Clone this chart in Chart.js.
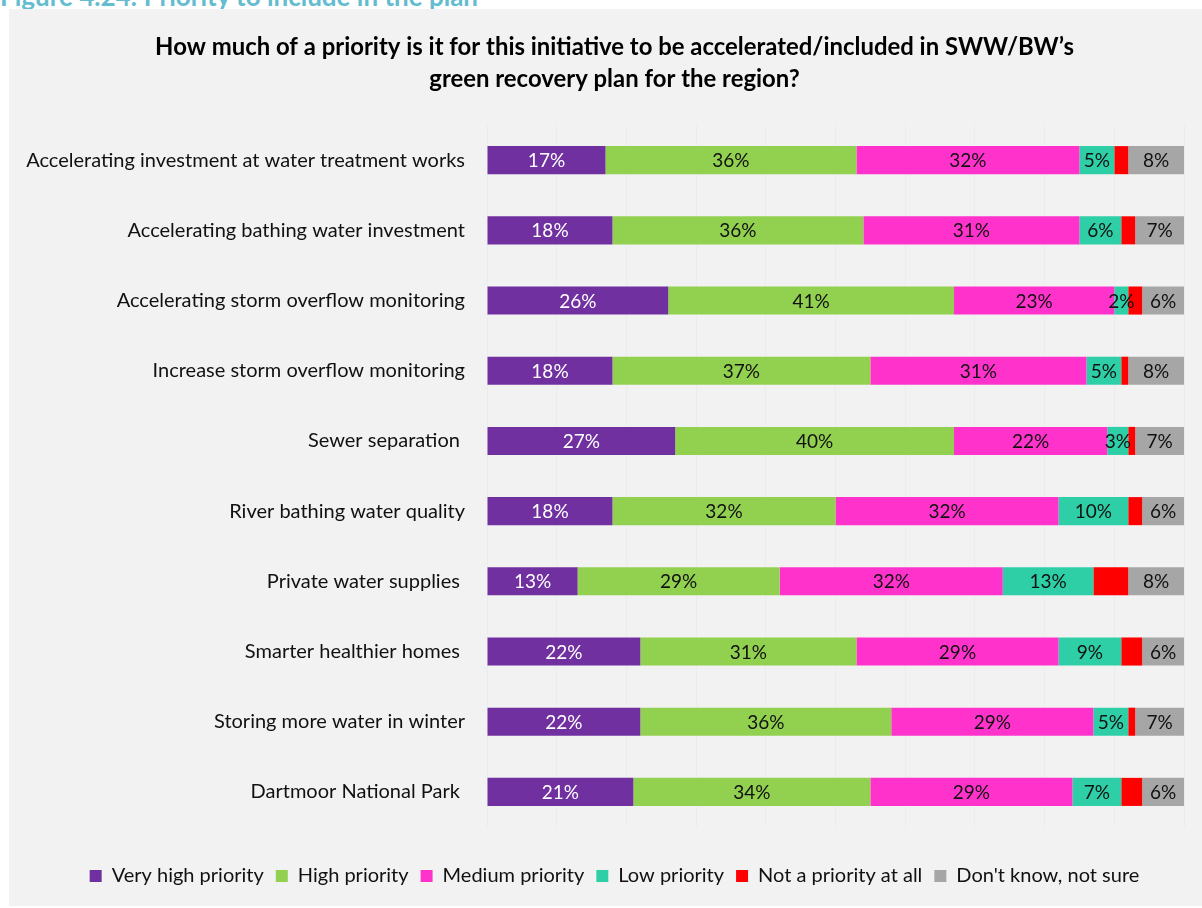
<!DOCTYPE html>
<html>
<head>
<meta charset="utf-8">
<title>Priority to include in the plan</title>
<script src="https://cdn.jsdelivr.net/npm/chart.js@4.4.1/dist/chart.umd.min.js"></script>
<style>
  html, body { margin: 0; padding: 0; background: #ffffff; overflow: hidden; }
  body { width: 1202px; height: 908px; position: relative; }
  #caption {
    position: absolute; left: 0; top: -19px;
    font-family: Lato, "Open Sans", sans-serif; font-weight: 700;
    font-size: 26px; line-height: 31px; color: #63bccf; white-space: nowrap;
  }
  #panel {
    position: absolute; left: 9px; top: 9px; width: 1193px; height: 897px;
    background: #f2f2f2;
  }
  #panel canvas { display: block; }
</style>
</head>
<body>
<div id="caption">Figure 4.24: Priority to include in the plan</div>
<div id="panel"><canvas id="chart" width="1193" height="897"></canvas></div>
<script>
// Survey question categories (top to bottom)
const categories = [
  "Accelerating investment at water treatment works",
  "Accelerating bathing water investment",
  "Accelerating storm overflow monitoring",
  "Increase storm overflow monitoring",
  "Sewer separation ",
  "River bathing water quality",
  "Private water supplies ",
  "Smarter healthier homes ",
  "Storing more water in winter",
  "Dartmoor National Park "
];

// Share of respondents per answer (%)
const veryHigh   = [17, 18, 26, 18, 27, 18, 13, 22, 22, 21];
const high       = [36, 36, 41, 37, 40, 32, 29, 31, 36, 34];
const medium     = [32, 31, 23, 31, 22, 32, 32, 29, 29, 29];
const low        = [ 5,  6,  2,  5,  3, 10, 13,  9,  5,  7];
const notAtAll   = [ 2,  2,  2,  1,  1,  2,  5,  3,  1,  3];
const dontKnow   = [ 8,  7,  6,  8,  7,  6,  8,  6,  7,  6];

const seriesNames = [
  "Very high priority", "High priority", "Medium priority",
  "Low priority", "Not a priority at all", "Don't know, not sure"
];
const seriesValues = [veryHigh, high, medium, low, notAtAll, dontKnow];
const seriesColors = ["#7030a0", "#92d050", "#ff33cc", "#2ecfa6", "#ff0000", "#a6a6a6"];
const labelColors  = ["#ffffff", "#111111", "#111111", "#111111", null, "#111111"];

const FONT = "Lato, 'Open Sans', sans-serif";

// Writes the percentage in the middle of each segment
const segmentLabels = {
  id: "segmentLabels",
  afterDatasetsDraw(chart) {
    const ctx = chart.ctx;
    ctx.save();
    ctx.font = "19px " + FONT;
    ctx.textAlign = "center";
    ctx.textBaseline = "middle";
    chart.data.datasets.forEach((ds, di) => {
      const color = labelColors[di];
      if (!color) return;
      const meta = chart.getDatasetMeta(di);
      meta.data.forEach((bar, i) => {
        const p = bar.getProps(["x", "y", "base"], true);
        ctx.fillStyle = color;
        ctx.fillText(ds.data[i] + "%", (p.x + p.base) / 2, p.y + 1);
      });
    });
    ctx.restore();
  }
};

// Centres title and legend a little right of the canvas middle
const shiftHeaderFooter = {
  id: "shiftHeaderFooter",
  afterLayout(chart) {
    const dx = 18;
    [chart.titleBlock, chart.legend].forEach(box => {
      if (!box) return;
      box.left += dx;
      box.right += dx;
    });
  }
};

new Chart(document.getElementById("chart"), {
  type: "bar",
  data: {
    labels: categories,
    datasets: seriesNames.map((name, k) => ({
      label: name,
      data: seriesValues[k],
      backgroundColor: seriesColors[k],
      borderWidth: 0,
      barPercentage: 0.8,
      categoryPercentage: 0.5
    }))
  },
  options: {
    indexAxis: "y",
    responsive: false,
    animation: false,
    layout: { padding: { left: 0, right: 18, top: 0, bottom: 10 } },
    scales: {
      x: {
        stacked: true,
        min: 0, max: 100,
        ticks: { display: false, stepSize: 10 },
        grid: { color: "#e8eef0", lineWidth: 1, drawTicks: false },
        border: { display: false },
        afterFit(scale) { scale.height = 27; }
      },
      y: {
        stacked: true,
        grid: { display: false, drawTicks: false },
        border: { display: false },
        ticks: { color: "#111111", font: { family: FONT, size: 20 }, padding: 22 },
        afterFit(scale) { scale.width = 478; }
      }
    },
    plugins: {
      title: {
        display: true,
        text: [
          "How much of a priority is it for this initiative to be accelerated/included in SWW/BW\u2019s",
          "green recovery plan for the region?"
        ],
        color: "#000000",
        font: { family: FONT, size: 23.9, weight: "bold", lineHeight: 1.34 },
        padding: { top: 22, bottom: 30 }
      },
      legend: {
        position: "bottom",
        labels: {
          color: "#111111",
          font: { family: FONT, size: 20 },
          boxWidth: 12, boxHeight: 12,
          padding: 12
        }
      },
      tooltip: { enabled: false }
    }
  },
  plugins: [segmentLabels, shiftHeaderFooter]
});
</script>
</body>
</html>
